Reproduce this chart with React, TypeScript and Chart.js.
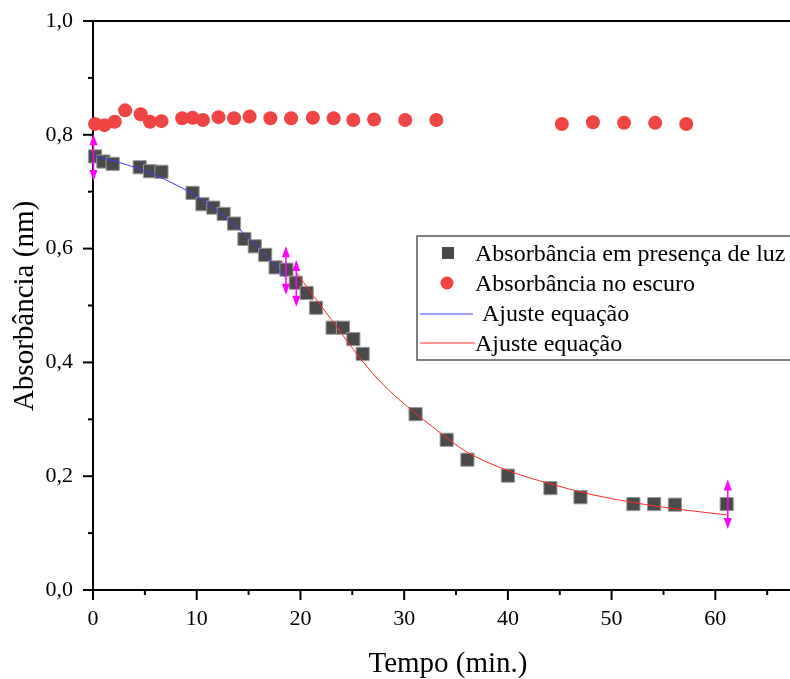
import React, { useEffect, useRef } from "react";
import { Chart, registerables } from "chart.js";

Chart.register(...registerables);

// ---- data ----
const lightTime = [0.2, 1.0, 1.9, 4.5, 5.5, 6.6, 9.6, 10.55, 11.6, 12.6, 13.6, 14.6, 15.6, 16.6, 17.6, 18.65, 19.55, 20.6, 21.5, 23.1, 24.1, 25.1, 26.0, 31.1, 34.1, 36.1, 40.0, 44.1, 47.0, 52.1, 54.1, 56.1, 61.1];
const lightAbs = [0.762, 0.753, 0.749, 0.743, 0.736, 0.735, 0.698, 0.678, 0.672, 0.661, 0.644, 0.617, 0.604, 0.589, 0.567, 0.563, 0.540, 0.522, 0.496, 0.461, 0.461, 0.441, 0.415, 0.309, 0.264, 0.229, 0.201, 0.179, 0.163, 0.151, 0.151, 0.150, 0.151];

const darkTime = [0.2, 1.1, 2.1, 3.1, 4.6, 5.5, 6.6, 8.6, 9.6, 10.6, 12.1, 13.6, 15.1, 17.1, 19.1, 21.2, 23.2, 25.1, 27.1, 30.1, 33.1, 45.2, 48.2, 51.2, 54.2, 57.2];
const darkAbs = [0.819, 0.817, 0.823, 0.843, 0.836, 0.823, 0.824, 0.829, 0.830, 0.826, 0.831, 0.829, 0.832, 0.829, 0.829, 0.830, 0.829, 0.826, 0.827, 0.826, 0.826, 0.819, 0.822, 0.821, 0.821, 0.819];

const fitBlueTime = [0, 2, 4, 6, 8, 10, 12, 14, 16, 18.6];
const fitBlueAbs = [0.763, 0.754, 0.743, 0.729, 0.712, 0.692, 0.666, 0.636, 0.600, 0.549];

const fitRedTime = [19.6, 21, 23, 25, 27, 29, 31, 33, 36, 40, 44, 48, 52, 56, 61.1];
const fitRedAbs = [0.558, 0.523, 0.475, 0.425, 0.380, 0.343, 0.312, 0.283, 0.243, 0.210, 0.187, 0.168, 0.154, 0.143, 0.132];

const arrowTime = [0.05, 18.6, 19.6, 61.2];
const arrowTop = [0.801, 0.604, 0.580, 0.194];
const arrowBottom = [0.719, 0.519, 0.498, 0.107];

const xMajorTicks = [0, 10, 20, 30, 40, 50, 60];
const xMinorTicks = [5, 15, 25, 35, 45, 55, 65];
const yMajorTicks = [0, 0.2, 0.4, 0.6, 0.8, 1.0];
const yMinorTicks = [0.1, 0.3, 0.5, 0.7, 0.9];

const legendLabels = [
  "Absorbância em presença de luz",
  "Absorbância no escuro",
  "Ajuste equação",
  "Ajuste equação",
];

const xTitle = "Tempo (min.)";
const yTitle = "Absorbância (nm)";

const FONT = "'Liberation Serif', 'Times New Roman', serif";
const SQUARE_FILL = "#4a4a4a";
const SQUARE_BORDER = "#9a9a9a";
const DOT_COLOR = "#ef4444";
const BLUE = "#3a3aff";
const RED = "#ff2a2a";
const MAGENTA = "#ff00ff";

const zip = (xs: number[], ys: number[]) => xs.map((x, i) => ({ x, y: ys[i] }));

const framePlugin = {
  id: "frame",
  afterDatasetsDraw(chart: any) {
    const { ctx, scales } = chart;
    const xs = scales.x;
    const ys = scales.y;
    ctx.save();
    // arrows (fit range markers)
    ctx.strokeStyle = MAGENTA;
    ctx.fillStyle = MAGENTA;
    ctx.lineWidth = 1.5;
    arrowTime.forEach((t, i) => {
      const px = xs.getPixelForValue(t);
      const top = ys.getPixelForValue(arrowTop[i]);
      const bot = ys.getPixelForValue(arrowBottom[i]);
      ctx.beginPath();
      ctx.moveTo(px, top + 4);
      ctx.lineTo(px, bot - 4);
      ctx.stroke();
      ctx.beginPath();
      ctx.moveTo(px, top);
      ctx.lineTo(px - 4, top + 11);
      ctx.lineTo(px + 4, top + 11);
      ctx.closePath();
      ctx.fill();
      ctx.beginPath();
      ctx.moveTo(px, bot);
      ctx.lineTo(px - 4, bot - 11);
      ctx.lineTo(px + 4, bot - 11);
      ctx.closePath();
      ctx.fill();
    });
    ctx.restore();
  },
  afterDraw(chart: any) {
    const { ctx, chartArea, scales } = chart;
    const xs = scales.x;
    const ys = scales.y;
    ctx.save();
    ctx.strokeStyle = "#000";
    ctx.lineWidth = 2;
    // top frame
    ctx.beginPath();
    ctx.moveTo(chartArea.left - 1, chartArea.top);
    ctx.lineTo(chartArea.right, chartArea.top);
    ctx.stroke();
    // ticks
    const drawX = (v: number, len: number) => {
      const p = xs.getPixelForValue(v);
      ctx.beginPath();
      ctx.moveTo(p, chartArea.bottom);
      ctx.lineTo(p, chartArea.bottom + len);
      ctx.stroke();
    };
    const drawY = (v: number, len: number) => {
      const p = ys.getPixelForValue(v);
      ctx.beginPath();
      ctx.moveTo(chartArea.left, p);
      ctx.lineTo(chartArea.left - len, p);
      ctx.stroke();
    };
    xMajorTicks.forEach((v) => drawX(v, 10));
    xMinorTicks.forEach((v) => drawX(v, 5));
    yMajorTicks.forEach((v) => drawY(v, 10));
    yMinorTicks.forEach((v) => drawY(v, 5));

    // axis titles
    ctx.fillStyle = "#000";
    ctx.font = `29px ${FONT}`;
    ctx.textAlign = "center";
    ctx.textBaseline = "alphabetic";
    ctx.fillText(xTitle, chartArea.left + 355, chartArea.bottom + 82);
    ctx.save();
    ctx.translate(chartArea.left - 60, chartArea.top + 285);
    ctx.rotate(-Math.PI / 2);
    ctx.fillText(yTitle, 0, 0);
    ctx.restore();

    // legend box
    const lx = chartArea.left + 324;
    const ly = chartArea.top + 215;
    const lw = 400;
    const lh = 124;
    ctx.fillStyle = "#fff";
    ctx.fillRect(lx, ly, lw, lh);
    ctx.strokeStyle = "#555";
    ctx.lineWidth = 1.5;
    ctx.strokeRect(lx, ly, lw, lh);

    ctx.font = `24px ${FONT}`;
    ctx.textBaseline = "alphabetic";
    ctx.textAlign = "left";
    // row 1: square
    ctx.fillStyle = SQUARE_FILL;
    ctx.fillRect(lx + 25, ly + 11, 12, 12);
    ctx.fillStyle = "#000";
    ctx.fillText(legendLabels[0], lx + 58, ly + 25);
    // row 2: circle
    ctx.fillStyle = DOT_COLOR;
    ctx.beginPath();
    ctx.arc(lx + 30, ly + 47, 6.5, 0, Math.PI * 2);
    ctx.fill();
    ctx.fillStyle = "#000";
    ctx.fillText(legendLabels[1], lx + 58, ly + 55);
    // row 3: blue line
    ctx.strokeStyle = BLUE;
    ctx.lineWidth = 1;
    ctx.beginPath();
    ctx.moveTo(lx + 3, ly + 78);
    ctx.lineTo(lx + 56, ly + 78);
    ctx.stroke();
    ctx.fillStyle = "#000";
    ctx.fillText(legendLabels[2], lx + 65, ly + 85);
    // row 4: red line
    ctx.strokeStyle = RED;
    ctx.beginPath();
    ctx.moveTo(lx + 3, ly + 107);
    ctx.lineTo(lx + 58, ly + 107);
    ctx.stroke();
    ctx.fillStyle = "#000";
    ctx.fillText(legendLabels[3], lx + 58, ly + 115);
    ctx.restore();
  },
};

export default function App() {
  const canvasRef = useRef<HTMLCanvasElement | null>(null);

  useEffect(() => {
    if (!canvasRef.current) return;
    const chart = new Chart(canvasRef.current, {
      type: "scatter",
      data: {
        datasets: [
          {
            label: legendLabels[2],
            data: zip(fitBlueTime, fitBlueAbs),
            showLine: true,
            borderColor: BLUE,
            borderWidth: 1,
            pointRadius: 0,
            cubicInterpolationMode: "monotone",
            order: 1,
            clip: false as any,
          },
          {
            label: legendLabels[3],
            data: zip(fitRedTime, fitRedAbs),
            showLine: true,
            borderColor: RED,
            borderWidth: 1,
            pointRadius: 0,
            cubicInterpolationMode: "monotone",
            order: 1,
            clip: false as any,
          },
          {
            label: legendLabels[0],
            data: zip(lightTime, lightAbs),
            pointStyle: "rect",
            pointRadius: 9.3,
            backgroundColor: SQUARE_FILL,
            borderColor: SQUARE_BORDER,
            borderWidth: 1,
            order: 2,
            clip: false as any,
          },
          {
            label: legendLabels[1],
            data: zip(darkTime, darkAbs),
            pointStyle: "circle",
            pointRadius: 7,
            backgroundColor: DOT_COLOR,
            borderColor: DOT_COLOR,
            borderWidth: 0,
            order: 3,
            clip: false as any,
          },
        ],
      },
      options: {
        animation: false,
        responsive: false,
        maintainAspectRatio: false,
        layout: { autoPadding: false, padding: { top: 21, right: 0, left: 0, bottom: 0 } },
        plugins: {
          legend: { display: false },
          tooltip: { enabled: false },
        },
        scales: {
          x: {
            type: "linear",
            min: 0,
            max: 67.2,
            grid: { display: false, drawTicks: false },
            border: { display: true, color: "#000", width: 2 },
            afterBuildTicks: (scale: any) => {
              scale.ticks = xMajorTicks.map((v) => ({ value: v }));
            },
            afterFit: (scale: any) => {
              scale.height = 89;
              scale.paddingLeft = 0;
              scale.paddingRight = 0;
            },
            ticks: {
              padding: 16,
              color: "#000",
              font: { family: FONT, size: 22 },
              callback: (v: any) => String(v),
            },
            title: { display: false, text: xTitle },
          },
          y: {
            type: "linear",
            min: 0,
            max: 1,
            grid: { display: false, drawTicks: false },
            border: { display: true, color: "#000", width: 2 },
            afterBuildTicks: (scale: any) => {
              scale.ticks = yMajorTicks.map((v) => ({ value: v }));
            },
            afterFit: (scale: any) => {
              scale.width = 93;
              scale.paddingTop = 0;
              scale.paddingBottom = 0;
            },
            ticks: {
              padding: 20,
              color: "#000",
              font: { family: FONT, size: 22 },
              callback: (v: any) => Number(v).toFixed(1).replace(".", ","),
            },
            title: { display: false, text: yTitle },
          },
        },
      },
      plugins: [framePlugin],
    });
    return () => chart.destroy();
  }, []);

  return (
    <div style={{ position: "fixed", left: 0, top: 0, width: 790, height: 679, background: "#fff" }}>
      <canvas ref={canvasRef} width={790} height={679} style={{ width: 790, height: 679, display: "block" }} />
    </div>
  );
}
